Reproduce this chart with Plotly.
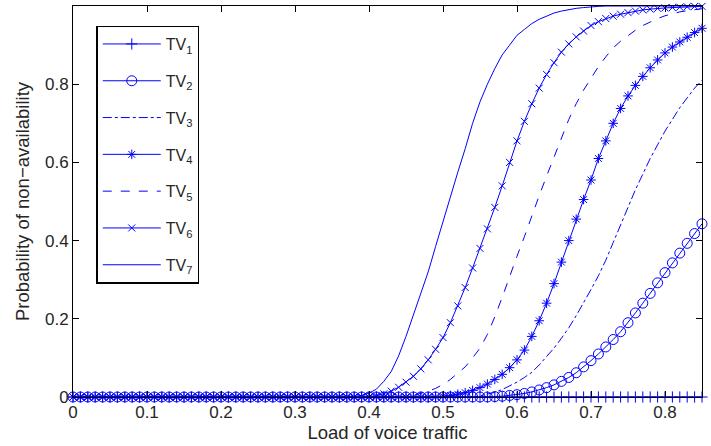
import plotly.graph_objects as go

load = [round(i * 0.01, 2) for i in range(86)]

tv1 = [0, 0, 0, 0, 0, 0, 0, 0, 0, 0,
       0, 0, 0, 0, 0, 0, 0, 0, 0, 0,
       0, 0, 0, 0, 0, 0, 0, 0, 0, 0,
       0, 0, 0, 0, 0, 0, 0, 0, 0, 0,
       0, 0, 0, 0, 0, 0, 0, 0, 0, 0,
       0, 0, 0, 0, 0, 0, 0, 0, 0, 0,
       0, 0, 0, 0, 0, 0, 0, 0, 0, 0,
       0, 0, 0, 0, 0, 0, 0, 0, 0, 0,
       0, 0, 0, 0, 0, 0]

tv2 = [0, 0, 0, 0, 0, 0, 0, 0, 0, 0,
       0, 0, 0, 0, 0, 0, 0, 0, 0, 0,
       0, 0, 0, 0, 0, 0, 0, 0, 0, 0,
       0, 0, 0, 0, 0, 0, 0, 0, 0, 0,
       0, 0, 0, 0, 0, 0, 0, 0, 0, 0,
       0, 0, 0, 0, 0, 0, 0,
       0.001, 0.002, 0.004, 0.006,
       0.009, 0.013, 0.018, 0.024, 0.031, 0.04, 0.05, 0.062, 0.077, 0.093,
       0.11, 0.128, 0.147, 0.167, 0.19, 0.215, 0.24, 0.265, 0.292, 0.318,
       0.343, 0.368, 0.393, 0.418, 0.443]

tv3 = [0, 0, 0, 0, 0, 0, 0, 0, 0, 0,
       0, 0, 0, 0, 0, 0, 0, 0, 0, 0,
       0, 0, 0, 0, 0, 0, 0, 0, 0, 0,
       0, 0, 0, 0, 0, 0, 0, 0, 0, 0,
       0, 0, 0, 0, 0, 0, 0, 0, 0, 0,
       0, 0, 0, 0, 0,
       0.003, 0.007, 0.012, 0.019, 0.028, 0.038,
       0.05, 0.063, 0.082, 0.103, 0.125, 0.15, 0.177, 0.208, 0.24, 0.275,
       0.31, 0.35, 0.395, 0.44, 0.485, 0.53, 0.57, 0.61, 0.645, 0.68,
       0.71, 0.74, 0.765, 0.79, 0.81]

tv4 = [0, 0, 0, 0, 0, 0, 0, 0, 0, 0,
       0, 0, 0, 0, 0, 0, 0, 0, 0, 0,
       0, 0, 0, 0, 0, 0, 0, 0, 0, 0,
       0, 0, 0, 0, 0, 0, 0, 0, 0, 0,
       0, 0, 0, 0, 0, 0, 0, 0, 0, 0,
       0.002,
       0.004, 0.007, 0.011, 0.017, 0.024, 0.033, 0.045, 0.058, 0.075, 0.095,
       0.12, 0.155, 0.195, 0.24, 0.29, 0.345, 0.40, 0.455, 0.505, 0.555,
       0.61, 0.655, 0.70, 0.738, 0.77, 0.797, 0.82, 0.842, 0.862, 0.88,
       0.895, 0.908, 0.92, 0.932, 0.943]

tv5 = [0, 0, 0, 0, 0, 0, 0, 0, 0, 0,
       0, 0, 0, 0, 0, 0, 0, 0, 0, 0,
       0, 0, 0, 0, 0, 0, 0, 0, 0, 0,
       0, 0, 0, 0, 0, 0, 0, 0, 0, 0,
       0, 0, 0, 0, 0, 0,
       0.004, 0.009, 0.015, 0.022, 0.032,
       0.045, 0.06, 0.077, 0.10, 0.125, 0.16, 0.205, 0.255, 0.31, 0.36,
       0.41, 0.465, 0.515, 0.565, 0.615, 0.665, 0.71, 0.75, 0.785, 0.815,
       0.845, 0.87, 0.893, 0.91, 0.925, 0.938, 0.95, 0.96, 0.968, 0.975,
       0.98, 0.985, 0.988, 0.991, 0.993]

tv6 = [0, 0, 0, 0, 0, 0, 0, 0, 0, 0,
       0, 0, 0, 0, 0, 0, 0, 0, 0, 0,
       0, 0, 0, 0, 0, 0, 0, 0, 0, 0,
       0, 0, 0, 0, 0, 0, 0, 0, 0, 0,
       0,
       0.003, 0.008, 0.015, 0.025, 0.038, 0.053, 0.072, 0.095, 0.122, 0.152,
       0.19, 0.233, 0.28, 0.33, 0.38, 0.43, 0.485, 0.54, 0.60, 0.655,
       0.705, 0.75, 0.79, 0.825, 0.855, 0.882, 0.903, 0.921, 0.936, 0.95,
       0.96, 0.968, 0.974, 0.979, 0.983, 0.987, 0.99, 0.992, 0.994, 0.995,
       0.996, 0.997, 0.998, 0.999, 0.999]

tv7 = [0, 0, 0, 0, 0, 0, 0, 0, 0, 0,
       0, 0, 0, 0, 0, 0, 0, 0, 0, 0,
       0, 0, 0, 0, 0, 0, 0, 0, 0, 0,
       0, 0, 0, 0, 0, 0, 0, 0, 0,
       0.004, 0.01, 0.02, 0.04, 0.065, 0.105, 0.155, 0.21, 0.26, 0.32, 0.385,
       0.45, 0.515, 0.575, 0.635, 0.70, 0.755, 0.80, 0.84, 0.875, 0.90,
       0.925, 0.94, 0.955, 0.966, 0.975, 0.982, 0.987, 0.991, 0.994, 0.996,
       0.998, 0.999,
       1, 1, 1, 1, 1, 1, 1, 1, 1, 1, 1, 1, 1, 1]

names = ["TV<sub>1</sub>", "TV<sub>2</sub>", "TV<sub>3</sub>", "TV<sub>4</sub>",
         "TV<sub>5</sub>", "TV<sub>6</sub>", "TV<sub>7</sub>"]
series = [tv1, tv2, tv3, tv4, tv5, tv6, tv7]
for s in series:
    assert len(s) == len(load), len(s)

BLUE = "rgb(0,0,255)"
styles = [
    dict(mode="lines+markers", dash="solid", symbol="cross-thin-open", size=8),
    dict(mode="lines+markers", dash="solid", symbol="circle-open", size=10),
    dict(mode="lines", dash="dashdot", symbol=None, size=0),
    dict(mode="lines+markers", dash="solid", symbol="asterisk-open", size=8),
    dict(mode="lines", dash="dash", symbol=None, size=0),
    dict(mode="lines+markers", dash="solid", symbol="x-thin-open", size=7),
    dict(mode="lines", dash="solid", symbol=None, size=0),
]

fig = go.Figure()
for i, (nm, ys, st) in enumerate(zip(names, series, styles)):
    kw = dict(
        x=load, y=ys, name=nm, mode=st["mode"], legendgroup=f"g{i}",
        line=dict(color=BLUE, width=1, dash=st["dash"]),
        cliponaxis=False,
    )
    if st["symbol"]:
        kw["marker"] = dict(symbol=st["symbol"], size=st["size"], color=BLUE,
                            line=dict(color=BLUE, width=1))
    fig.add_trace(go.Scatter(**kw))

TXT = "#262626"
axis_common = dict(
    showline=True, linecolor="black", linewidth=1, mirror="ticks",
    ticks="inside", ticklen=6, tickcolor="black", showgrid=False, zeroline=False,
    tickfont=dict(size=17, color=TXT),
)

fig.update_layout(
    width=711, height=446,
    margin=dict(l=73, r=9, t=6, b=49),
    paper_bgcolor="white", plot_bgcolor="white",
    font=dict(family="Liberation Sans, Arial, sans-serif", size=17, color=TXT),
    xaxis=dict(range=[0, 0.85], tickvals=[0, 0.1, 0.2, 0.3, 0.4, 0.5, 0.6, 0.7, 0.8],
               ticktext=["0", "0.1", "0.2", "0.3", "0.4", "0.5", "0.6", "0.7", "0.8"],
               title=dict(text="Load of voice traffic", font=dict(size=18.5), standoff=2),
               **axis_common),
    yaxis=dict(range=[0, 1], tickvals=[0, 0.2, 0.4, 0.6, 0.8, 1],
               ticktext=["0", "0.2", "0.4", "0.6", "0.8", "1"],
               title=dict(text="Probability of non\u2212availability", font=dict(size=18.5), standoff=10),
               **axis_common),
    legend=dict(x=0.037, y=0.95, xanchor="left", yanchor="top",
                bordercolor="black", borderwidth=1.5, bgcolor="white",
                font=dict(size=16, color=TXT), tracegroupgap=13,
                itemwidth=58),
    showlegend=True,
)

fig.write_html("out.html")
